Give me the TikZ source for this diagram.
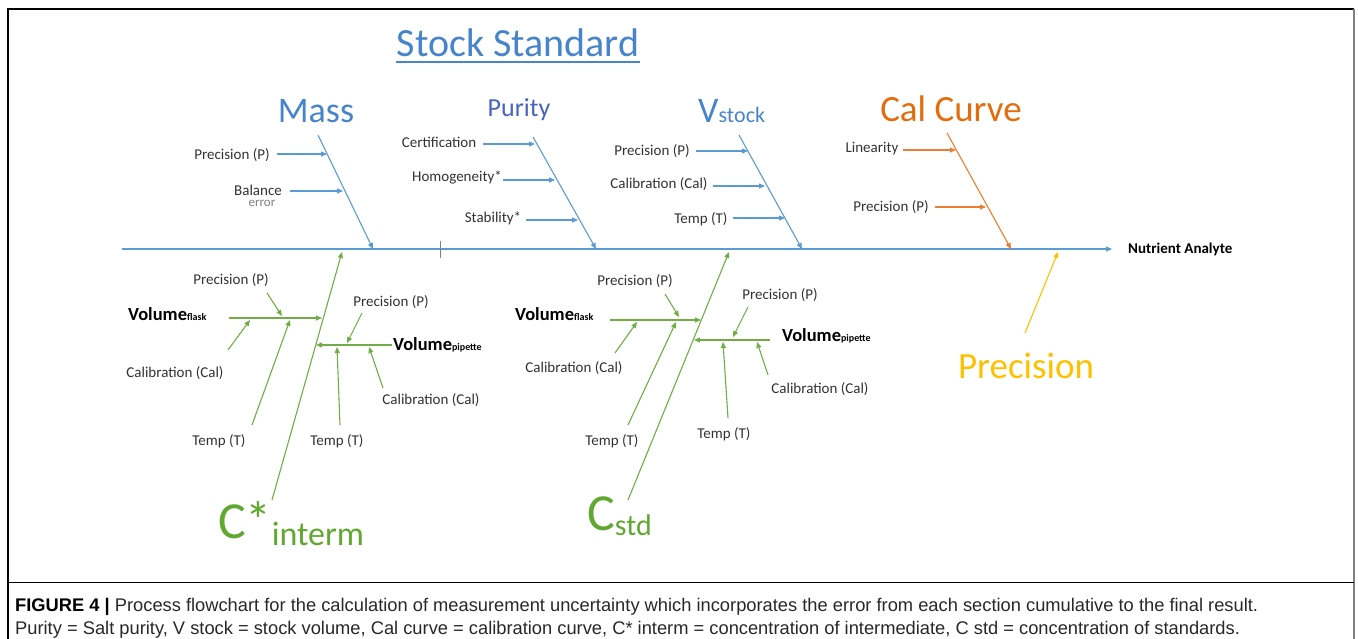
\documentclass[tikz,border=0pt]{standalone}
\usepackage{fontspec}
\setmainfont{Carlito}
\newfontfamily\capfont{Liberation Sans}
\usetikzlibrary{arrows.meta}
\definecolor{spblue}{RGB}{91,155,213}
\definecolor{ttlblue}{RGB}{70,132,204}
\definecolor{purblue}{RGB}{72,100,190}
\definecolor{orng}{RGB}{237,125,49}
\definecolor{orngtxt}{RGB}{228,108,10}
\definecolor{grn}{RGB}{112,173,71}
\definecolor{grntxt}{RGB}{96,168,48}
\definecolor{gold}{RGB}{255,192,0}
\definecolor{lblgray}{RGB}{50,50,50}
\definecolor{captxt}{RGB}{40,40,40}
\newcommand\myfs[1]{\fontsize{#1}{#1}\selectfont}
\begin{document}
\begin{tikzpicture}[x=1pt,y=-1pt,
  arr/.style={-{Triangle[length=6pt,width=5pt]}, line width=1.1pt},
  lbl/.style={font=\myfs{15}, text=lblgray, inner sep=0pt},
  vol/.style={font=\bfseries\myfs{18.5}, inner sep=0pt, anchor=base west},
  captext/.style={anchor=west, font=\capfont\myfs{18.3}, text=captxt, inner sep=0pt}]
\useasboundingbox (0,0) rectangle (1358,639);
% frame
\draw[line width=1.2pt] (8,639) -- (8,9) -- (1354,9);
\draw[gray, line width=2pt] (1354,9) -- (1354,639);
\draw[line width=0.8pt] (8,582) -- (1354,582);
% title
\node[anchor=base, font=\myfs{40}, text=ttlblue, inner sep=0pt] (title) at (518,57) {Stock Standard};
\draw[ttlblue, line width=1.5pt] ([yshift=-5pt]title.base west) -- ([yshift=-5pt]title.base east);
% spine
\coordinate (sp0) at (122,249);
\coordinate (sp1) at (1112,249);
\draw[arr, spblue] (sp0) -- (sp1);
\node[anchor=west, font=\bfseries\myfs{15}, inner sep=0pt] (out) at (1128,249) {Nutrient Analyte};
\draw[gray, line width=0.8pt] (440,241) -- (440,258);
% ---- Mass
\node[anchor=base, font=\myfs{36}, text=ttlblue, inner sep=0pt] (mass) at (316,123) {Mass};
\coordinate (m0) at (318,135); \coordinate (m1) at (373,249);
\draw[arr, spblue] (m0) -- (m1);
\node[lbl] (mp) at (232,155) {Precision (P)};
\coordinate (mpa) at (277,154); \coordinate (mpb) at (327,154);
\draw[arr, spblue] (mpa) -- (mpb);
\node[lbl] (mb) at (258,190) {Balance};
\node[lbl, font=\myfs{13}, text=gray] (me) at (262,203) {error};
\coordinate (mba) at (290,191); \coordinate (mbb) at (343,191);
\draw[arr, spblue] (mba) -- (mbb);
% ---- Purity
\node[anchor=base, font=\myfs{26}, text=purblue, inner sep=0pt] (pur) at (519,117) {Purity};
\coordinate (p0) at (533,137); \coordinate (p1) at (596,249);
\draw[arr, spblue] (p0) -- (p1);
\node[lbl] (pc) at (439,142) {Certification};
\coordinate (pca) at (483,144); \coordinate (pcb) at (535,144);
\draw[arr, spblue] (pca) -- (pcb);
\node[lbl] (ph) at (457,177) {Homogeneity*};
\coordinate (pha) at (503,180); \coordinate (phb) at (555,180);
\draw[arr, spblue] (pha) -- (phb);
\node[lbl] (ps) at (493,218) {Stability*};
\coordinate (psa) at (526,220); \coordinate (psb) at (578,220);
\draw[arr, spblue] (psa) -- (psb);
% ---- Vstock
\node[anchor=base west, text=ttlblue, inner sep=0pt] (vst) at (698,123) {{\myfs{36}V}{\myfs{22}stock}};
\coordinate (v0) at (739,135); \coordinate (v1) at (802,249);
\draw[arr, spblue] (v0) -- (v1);
\node[lbl] (vp) at (652,151) {Precision (P)};
\coordinate (vpa) at (696,151); \coordinate (vpb) at (748,151);
\draw[arr, spblue] (vpa) -- (vpb);
\node[lbl] (vc) at (659,184) {Calibration (Cal)};
\coordinate (vca) at (713,186); \coordinate (vcb) at (765,186);
\draw[arr, spblue] (vca) -- (vcb);
\node[lbl] (vt) at (701,219) {Temp (T)};
\coordinate (vta) at (733,218); \coordinate (vtb) at (785,218);
\draw[arr, spblue] (vta) -- (vtb);
% ---- Cal Curve
\node[anchor=base, font=\myfs{37}, text=orngtxt, inner sep=0pt] (cal) at (951,122) {Cal Curve};
\coordinate (c0) at (947,133); \coordinate (c1) at (1011,249);
\draw[arr, orng] (c0) -- (c1);
\node[lbl] (cl) at (872,149) {Linearity};
\coordinate (cla) at (903,150); \coordinate (clb) at (956,150);
\draw[arr, orng] (cla) -- (clb);
\node[lbl] (cp) at (891,207) {Precision (P)};
\coordinate (cpa) at (935,207); \coordinate (cpb) at (986,207);
\draw[arr, orng] (cpa) -- (cpb);
% ---- Precision (yellow)
\node[anchor=base, font=\myfs{37}, text=gold, inner sep=0pt] (prec) at (1026,378) {Precision};
\coordinate (y0) at (1025,333); \coordinate (y1) at (1058,252);
\draw[arr, gold] (y0) -- (y1);
% ---- C* interm
\node[anchor=base west, text=grntxt, inner sep=0pt] (ci) at (218,538) {{\myfs{52}C*}\raisebox{-7pt}{\myfs{34}interm}};
\coordinate (g0) at (272,500); \coordinate (g1) at (342,252);
\draw[arr, grn] (g0) -- (g1);
% flask (left)
\node[vol] (vf1) at (128,320) {Volume\myfs{10}flask};
\coordinate (f1a) at (229,318); \coordinate (f1b) at (322,318);
\draw[arr, grn] (f1a) -- (f1b);
\node[lbl] (f1p) at (231,280) {Precision (P)};
\coordinate (f1pa) at (267,293); \coordinate (f1pb) at (282,316);
\draw[arr, grn] (f1pa) -- (f1pb);
\node[lbl] (f1c) at (175,373) {Calibration (Cal)};
\coordinate (f1ca) at (228,350); \coordinate (f1cb) at (250,320);
\draw[arr, grn] (f1ca) -- (f1cb);
\node[lbl] (f1t) at (219,441) {Temp (T)};
\coordinate (f1ta) at (252,425); \coordinate (f1tb) at (290,320);
\draw[arr, grn] (f1ta) -- (f1tb);
% pipette (left)
\node[vol] (vp1) at (393,350) {Volume\myfs{10}pipette};
\coordinate (q1a) at (392,345); \coordinate (q1b) at (316,345);
\draw[arr, grn] (q1a) -- (q1b);
\node[lbl] (q1p) at (391,302) {Precision (P)};
\coordinate (q1pa) at (362,313); \coordinate (q1pb) at (347,343);
\draw[arr, grn] (q1pa) -- (q1pb);
\node[lbl] (q1t) at (337,441) {Temp (T)};
\coordinate (q1ta) at (340,425); \coordinate (q1tb) at (337,347);
\draw[arr, grn] (q1ta) -- (q1tb);
\node[lbl] (q1c) at (431,400) {Calibration (Cal)};
\coordinate (q1ca) at (383,388); \coordinate (q1cb) at (369,347);
\draw[arr, grn] (q1ca) -- (q1cb);
% ---- C std
\node[anchor=base west, text=grntxt, inner sep=0pt] (cs) at (587,530) {{\myfs{52}C}\raisebox{-5pt}{\myfs{30}std}};
\coordinate (h0) at (628,500); \coordinate (h1) at (729,252);
\draw[arr, grn] (h0) -- (h1);
% flask (center)
\node[vol] (vf2) at (515,320) {Volume\myfs{10}flask};
\coordinate (f2a) at (610,320); \coordinate (f2b) at (701,320);
\draw[arr, grn] (f2a) -- (f2b);
\node[lbl] (f2p) at (635,281) {Precision (P)};
\coordinate (f2pa) at (665,294); \coordinate (f2pb) at (679,317);
\draw[arr, grn] (f2pa) -- (f2pb);
\node[lbl] (f2c) at (574,368) {Calibration (Cal)};
\coordinate (f2ca) at (615,353); \coordinate (f2cb) at (637,322);
\draw[arr, grn] (f2ca) -- (f2cb);
\node[lbl] (f2t) at (612,441) {Temp (T)};
\coordinate (f2ta) at (628,425); \coordinate (f2tb) at (676,322);
\draw[arr, grn] (f2ta) -- (f2tb);
% pipette (center)
\node[vol] (vp2) at (782,341) {Volume\myfs{10}pipette};
\coordinate (q2a) at (770,340); \coordinate (q2b) at (694,340);
\draw[arr, grn] (q2a) -- (q2b);
\node[lbl] (q2p) at (780,295) {Precision (P)};
\coordinate (q2pa) at (748,307); \coordinate (q2pb) at (733,337);
\draw[arr, grn] (q2pa) -- (q2pb);
\node[lbl] (q2t) at (724,434) {Temp (T)};
\coordinate (q2ta) at (728,418); \coordinate (q2tb) at (723,342);
\draw[arr, grn] (q2ta) -- (q2tb);
\node[lbl] (q2c) at (820,389) {Calibration (Cal)};
\coordinate (q2ca) at (768,375); \coordinate (q2cb) at (757,342);
\draw[arr, grn] (q2ca) -- (q2cb);
% ---- caption
\node[captext] (cap1) at (15,607) {\textcolor{black}{\textbf{FIGURE 4 |}} Process flowchart for the calculation of measurement uncertainty which incorporates the error from each section cumulative to the final result.};
\node[captext] (cap2) at (15,630) {Purity = Salt purity, V stock = stock volume, Cal curve = calibration curve, C* interm = concentration of intermediate, C std = concentration of standards.};
\end{tikzpicture}
\end{document}
